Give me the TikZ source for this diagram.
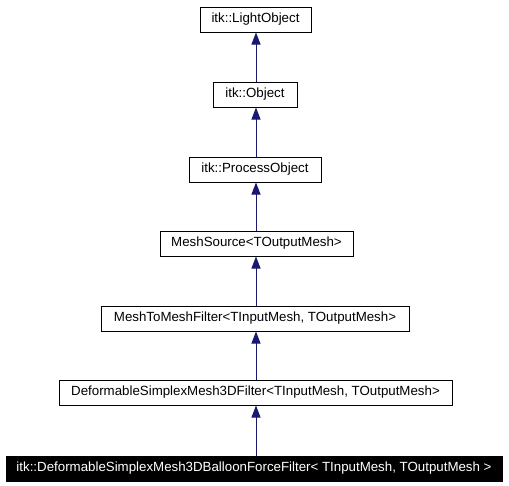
\documentclass[tikz,border=0pt]{standalone}
\usepackage{fontspec}
\setmainfont{Liberation Sans}
\usetikzlibrary{arrows.meta}
\definecolor{edgeblue}{HTML}{191970}
\tikzset{
  cls/.style={draw=black, line width=1pt, fill=white, inner sep=0pt, minimum height=25pt, font=\fontsize{13.3}{15}\selectfont, text=black},
  cur/.style={cls, fill=black, text=white},
  inh/.style={draw=edgeblue, line width=1pt, {Triangle[width=9pt,length=12pt]}-}
}
\begin{document}
\begin{tikzpicture}[x=1pt,y=-1pt]
\useasboundingbox (0,0) rectangle (509,485);
\node[cls, minimum width=111pt] (lo) at (255.5,19.5) {itk::LightObject};
\node[cls, minimum width=84pt] (ob) at (255,94.5) {itk::Object};
\node[cls, minimum width=132pt] (po) at (255,169.5) {itk::ProcessObject};
\node[cls, minimum width=193pt] (ms) at (256.5,243.5) {MeshSource<TOutputMesh>};
\node[cls, minimum width=308pt] (mm) at (255,318.5) {MeshToMeshFilter<TInputMesh, TOutputMesh>};
\node[cls, minimum width=393pt] (df) at (255.5,392.5) {DeformableSimplexMesh3DFilter<TInputMesh, TOutputMesh>};
\node[cur, minimum width=496pt] (bf) at (254,468.5) {itk::DeformableSimplexMesh3DBalloonForceFilter< TInputMesh, TOutputMesh >};
\draw[inh] (lo.south -| 256,0) -- (ob.north -| 256,0);
\draw[inh] (ob.south -| 256,0) -- (po.north -| 256,0);
\draw[inh] (po.south -| 256,0) -- (ms.north -| 256,0);
\draw[inh] (ms.south -| 256,0) -- (mm.north -| 256,0);
\draw[inh] (mm.south -| 256,0) -- (df.north -| 256,0);
\draw[inh] (df.south -| 256,0) -- (bf.north -| 256,0);
\end{tikzpicture}
\end{document}
